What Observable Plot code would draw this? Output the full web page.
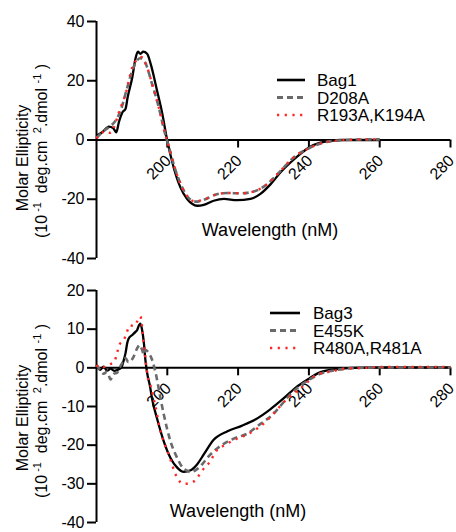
<!DOCTYPE html>
<html><head><meta charset="utf-8">
<script src="https://cdn.jsdelivr.net/npm/d3@7"></script>
<script src="https://cdn.jsdelivr.net/npm/@observablehq/plot@0.6"></script>
<style>
body{margin:0;background:#fff;}
#chart{width:456px;height:532px;position:relative;overflow:hidden;font-family:"Liberation Sans",Arial,sans-serif;}
#chart svg{display:block;overflow:visible;}
</style></head><body><div id="chart"></div>
<script>
// ---- tick labels / categories ----
const xTicks = [200, 220, 240, 260, 280];
const topYTicks = [-40, -20, 0, 20, 40];
const botYTicks = [-40, -30, -20, -10, 0, 10, 20];
const topNames = ["Bag1", "D208A", "R193A,K194A"];
const botNames = ["Bag3", "E455K", "R480A,R481A"];
const xTitle = "Wavelength (nM)";
const yTitle1 = "Molar Ellipticity";

// ---- top panel series ----
const bag1Nm = [180,181.6,183.5,184.7,185.6,186.3,187.3,188.2,188.8,190.1,191,191.7,192.4,193.2,194.3,195.3,197.1,198.6,199.8,201.8,203.7,205.6,207,208.4,210.3,213.1,216,219.7,223.5,226.3,229.2,232,234.8,237.6,240,243,246,249,252,256,260];
const bag1Val = [1.5,2.6,4.5,4.0,2.6,5.9,9.3,10.5,14.4,21.1,27.4,29.8,29.1,29.8,29.1,25.7,16.7,8.8,0.9,-9.3,-16,-19.9,-21.5,-22.2,-21.9,-20.5,-19.9,-20.3,-19.9,-18.2,-14.9,-10.9,-7.6,-4.7,-2.5,-1.0,-0.3,0,0,0,0];
const d208aNm = [180,182,184,185,186.8,188.7,190.1,191.5,192.4,193.8,195.7,197.6,199.4,200.5,202,204,206,207.5,208.5,210,212,214,217,220.7,224.4,228.2,232,235.7,240,244,248,252,256,260];
const d208aVal = [0.8,3.0,4.8,5.9,9.9,17.8,23.4,27.0,27.6,26.0,18.9,11.0,2.0,-2.5,-9,-15.5,-19.5,-20.7,-20.8,-20.3,-19.3,-18.3,-17.9,-18.0,-17.4,-14.9,-10.4,-5.9,-2.8,-0.9,-0.2,0.1,0.2,0.2];
const r193Nm = [180,181,182.5,184,185,186.3,188.2,190.1,191.5,192.6,194,195.7,197.6,199.4,200.5,202,204,206,207.5,209,211,214,217,220.7,224.4,228.2,232,235.7,240,244,248,252,256,260];
const r193Val = [0.5,1.8,3.0,2.4,4.5,9.3,15.5,24.5,27.2,28.0,25.5,19.0,11.0,2.0,-2.5,-9,-15.5,-19.5,-20.6,-20.5,-19.8,-18.3,-17.9,-18.0,-17.4,-14.9,-10.4,-5.9,-2.8,-0.9,-0.2,0.1,0.2,0.2];

// ---- bottom panel series ----
const bag3Nm = [180,181,182,183,184,185,186,187,187.7,188.2,188.7,189.1,190.1,191,191.5,192,192.4,192.9,193.4,193.8,194.3,195.1,195.7,197.1,199,200.9,202.8,204.7,206.6,208.4,210.3,213.1,217,221,225,229,233,236.7,240,243.3,248,252,260,270,280];
const bag3Val = [0.8,-0.5,0.3,-0.8,-0.2,-0.8,-0.5,0,2,3.8,6.5,7.6,8.5,9.3,9.8,11,11.4,9.7,6.3,2.1,-1.3,-4.7,-8,-13.1,-19,-23.3,-25.8,-26.9,-26.5,-25,-22.4,-18.6,-16.4,-15.0,-13.3,-10.8,-7.8,-4.8,-2.8,-1.1,-0.3,0,0.1,0.1,0.1];
const e455kNm = [180,181,182,183,184,184.5,185,185.8,186.5,187.3,188.2,189,189.6,190.5,191.5,192.2,192.9,193.4,193.8,194.8,195.7,196.7,198.1,199,200,200.9,202.8,204.5,205.6,206.6,208.4,209.4,211.3,212.2,215,218.8,222.6,226.3,230.1,232,234.8,239.5,243,247,252,260,270,280];
const e455kVal = [0.8,-0.5,-1.5,-1,-3,-2,-1.5,-1.3,0,1.3,2.5,1.5,1.7,2.9,5.1,5.9,4.6,3.4,4.6,3.8,2.1,-1.3,-8,-12,-16,-19,-23.3,-26,-26.6,-27.0,-26.2,-25.4,-23.3,-22.4,-20.2,-18.3,-17.0,-14.5,-11.8,-9.8,-6.8,-3.4,-1.6,-0.7,-0.1,0.1,0.1,0.1];
const r480Nm = [180,181,182,183,184,185,185.8,186.5,187.7,188.5,189.4,190.5,191.5,192.4,193,193.5,194,194.5,195.3,196.7,198.1,199.3,200.4,201.4,202.5,204.7,206.5,208,209.8,212.2,213.6,216.4,219.5,222.6,225.4,228.2,231,233.9,236.7,239,241,243.3,246.6,249.4,256,260,270,280];
const r480Val = [0.3,0.8,0.2,0.6,1.0,1.5,3.8,6.0,7.2,9,11.0,10.8,12,13.3,9.5,5,1.0,-2.5,-4.7,-10.2,-16.5,-19.8,-22.4,-25.2,-27.9,-30,-29.8,-29,-26.6,-24.1,-21.8,-19.9,-18.4,-17.2,-15.7,-13.6,-10.8,-8,-5.9,-4.2,-2.5,-1.4,-0.9,-0.3,0,0.2,0.2,0.2];

// ---- styles ----
const seriesColors = ["#000000", "#6a6a6a", "#ff2626"];
const seriesDash = [null, "6,4", "2.2,5.5"];
const seriesWidth = [2.3, 2.6, 2.4];
const FONT = "'Liberation Sans', Arial, sans-serif";

function rows(nm, val) { return nm.map((w, i) => ({nm: w, val: val[i]})); }

function panel(cfg) {
  const marks = [
    Plot.ruleY([0], {strokeWidth: 2}),
    Plot.ruleX([180], {strokeWidth: 2}),
    Plot.axisY({ticks: cfg.yTicks, tickSize: 9, tickPadding: 3, tickFormat: d => String(d), label: null, fontSize: 16, strokeWidth: 2}),
    Plot.ruleX(xTicks, {x: d => d, y1: 0, y2: 0, insetBottom: -8, strokeWidth: 2}),
    Plot.text(xTicks, {x: d => d, y: 0, text: d => String(d), rotate: -45, textAnchor: "end", lineAnchor: "middle", dx: 1, dy: 18, fontSize: 16})
  ];
  cfg.series.forEach((s, i) => {
    marks.push(Plot.line(rows(s.nm, s.val), {x: "nm", y: "val", stroke: seriesColors[i], strokeWidth: seriesWidth[i], strokeDasharray: seriesDash[i], strokeLinecap: "butt", curve: "monotone-x"}));
  });
  const svg = Plot.plot({
    width: 456, height: cfg.height,
    marginLeft: 96, marginRight: 6, marginTop: cfg.mt, marginBottom: cfg.mb,
    style: {fontFamily: FONT, fontSize: "16px", background: "transparent", color: "#000"},
    x: {domain: [180, 280], axis: null},
    y: {domain: cfg.yDomain},
    marks
  });
  const g = d3.select(svg);
  // legend
  cfg.names.forEach((n, i) => {
    const y = cfg.legend.ys[i];
    g.append("line").attr("x1", cfg.legend.x0).attr("x2", cfg.legend.x1).attr("y1", y).attr("y2", y)
      .attr("stroke", seriesColors[i]).attr("stroke-width", seriesWidth[i] + 0.3)
      .attr("stroke-dasharray", seriesDash[i]).attr("stroke-linecap", "butt");
    g.append("text").attr("x", cfg.legend.xt).attr("y", y).attr("dy", "0.36em").attr("text-anchor", "start")
      .attr("font-size", 17).attr("fill", "#000").text(n);
  });
  // x title
  g.append("text").attr("x", cfg.xt[0]).attr("y", cfg.xt[1]).attr("dy", "0.36em").attr("text-anchor", "middle")
    .attr("font-size", 18).attr("fill", "#000").text(xTitle);
  // y title
  g.append("text").attr("transform", `translate(${cfg.yt1[0]},${cfg.yt1[1]}) rotate(-90)`).attr("text-anchor", "middle")
    .attr("font-size", 16).attr("fill", "#000").text(yTitle1);
  const t = g.append("text").attr("transform", `translate(${cfg.yt2[0]},${cfg.yt2[1]}) rotate(-90)`).attr("text-anchor", "middle")
    .attr("font-size", 16).attr("fill", "#000");
  const parts = [["(10", 0], [" -1", 1], ["  deg.cm ", 0], [" 2", 1], [".dmol ", 0], ["-1", 1], [" )", 0]];
  let cur = 0;
  parts.forEach(([s, sup]) => {
    const target = sup ? -6 : 0;
    t.append("tspan").attr("dy", target - cur).attr("font-size", sup ? 11 : 16).text(s);
    cur = target;
  });
  return svg;
}

const root = document.getElementById("chart");
root.appendChild(panel({
  height: 266, mt: 21, mb: 8, yDomain: [-40, 40], yTicks: topYTicks, names: topNames,
  series: [{nm: bag1Nm, val: bag1Val}, {nm: d208aNm, val: d208aVal}, {nm: r193Nm, val: r193Val}],
  legend: {x0: 277, x1: 305, xt: 317, ys: [80, 97.5, 115]},
  xt: [270, 230], yt1: [28, 158], yt2: [47, 151]
}));
root.appendChild(panel({
  height: 266, mt: 24, mb: 10, yDomain: [-40, 20], yTicks: botYTicks, names: botNames,
  series: [{nm: bag3Nm, val: bag3Val}, {nm: e455kNm, val: e455kVal}, {nm: r480Nm, val: r480Val}],
  legend: {x0: 270, x1: 300, xt: 313, ys: [47, 64.5, 82]},
  xt: [238, 245], yt1: [28, 152], yt2: [47, 145]
}));
</script></body></html>
